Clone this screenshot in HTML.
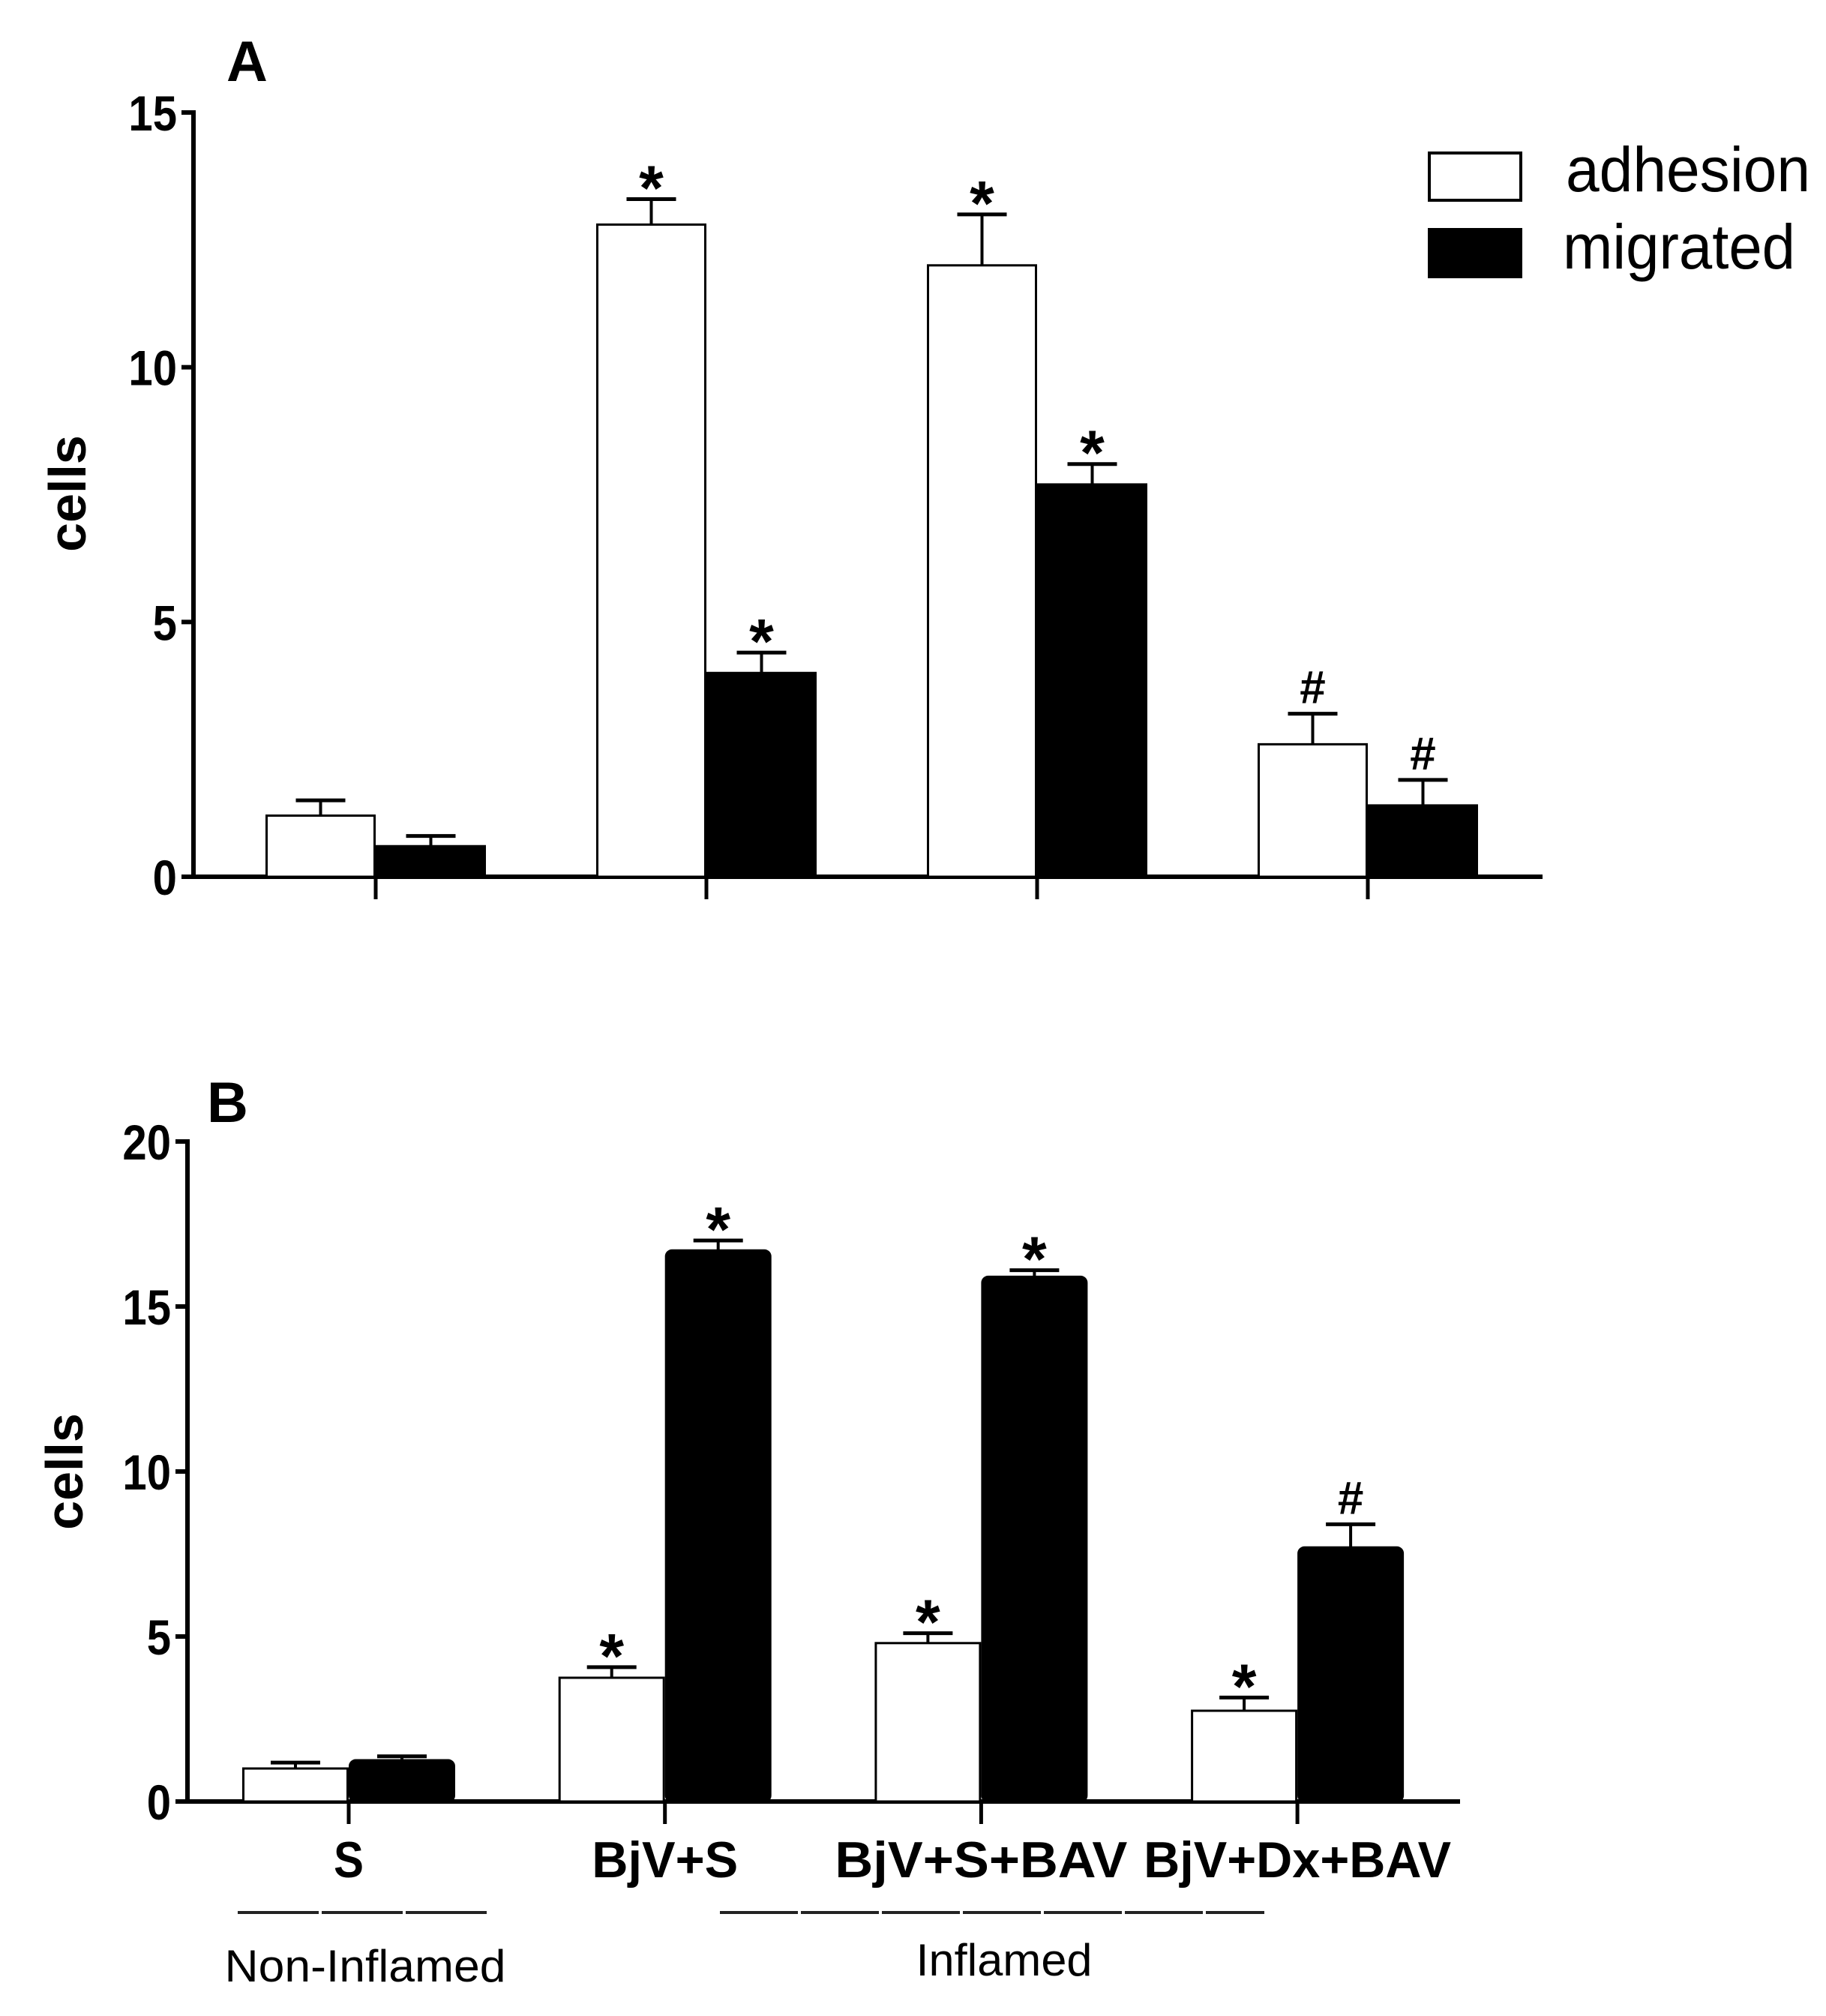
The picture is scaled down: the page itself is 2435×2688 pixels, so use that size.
<!DOCTYPE html>
<html><head><meta charset="utf-8"><style>
html,body{margin:0;padding:0;background:#fff;}
svg{display:block;}
text{font-family:"Liberation Sans",sans-serif;fill:#000;}
</style></head><body>
<svg id="chart" width="2435" height="2688" viewBox="0 0 2435 2688" xmlns="http://www.w3.org/2000/svg">
<g id="gA"></g>
<g id="gB"></g>
</svg>
<script>
const categories = ["S", "BjV+S", "BjV+S+BAV", "BjV+Dx+BAV"];
const adhesionA = [1.2, 12.8, 12.0, 2.6];
const adhesionErrA = [0.3, 0.5, 1.0, 0.6];
const migratedA = [0.6, 4.0, 7.7, 1.4];
const migratedErrA = [0.2, 0.4, 0.4, 0.5];
const adhesionMarkA = ["", "*", "*", "#"];
const migratedMarkA = ["", "*", "*", "#"];
const ticksA = [0, 5, 10, 15];
const adhesionB = [1.0, 3.75, 4.8, 2.75];
const adhesionErrB = [0.18, 0.32, 0.3, 0.4];
const migratedB = [1.25, 16.7, 15.9, 7.7];
const migratedErrB = [0.12, 0.3, 0.2, 0.7];
const adhesionMarkB = ["", "*", "*", "*"];
const migratedMarkB = ["", "*", "*", "#"];
const ticksB = [0, 5, 10, 15, 20];

const NS = "http://www.w3.org/2000/svg";
function mk(parent, tag, attrs, txt) {
  const e = document.createElementNS(NS, tag);
  for (const k in attrs) e.setAttribute(k, attrs[k]);
  if (txt !== undefined) e.textContent = txt;
  parent.appendChild(e);
  return e;
}

function panel(g, cfg) {
  const y = v => cfg.y0 - (v - 0) * (cfg.y0 - cfg.yTop) / cfg.yMax;
  const x = i => cfg.xStart + i * cfg.step;
  const ya = mk(g, "line", {x1: cfg.ax, y1: cfg.yTop - 3, x2: cfg.ax, y2: cfg.y0 + 3, stroke: "#000", "stroke-width": 6});
  
  
  const xa = mk(g, "line", {x1: cfg.ax - 3, y1: cfg.y0, x2: cfg.xEnd, y2: cfg.y0, stroke: "#000", "stroke-width": 6});
  
  
  cfg.ticks.forEach(t => {
    const tl = mk(g, "line", {x1: cfg.ax - 16, y1: y(t), x2: cfg.ax, y2: y(t), stroke: "#000", "stroke-width": 6});
    
    
    const tx = mk(g, "text", {x: cfg.ax - 22, y: y(t) + 24, "text-anchor": "end", "font-size": 66, "font-weight": "bold", transform: "translate(" + (cfg.ax - 22) + ",0) scale(0.88,1) translate(" + (-(cfg.ax - 22)) + ",0)"}, String(t));
    
    
  });
  categories.forEach((c, i) => {
    const cx = x(i);
    const xt = mk(g, "line", {x1: cx, y1: cfg.y0, x2: cx, y2: cfg.y0 + 30, stroke: "#000", "stroke-width": 5});
    
    
    const series = [
      {v: cfg.adh[i], e: cfg.adhErr[i], m: cfg.adhMark[i], x0: cx - cfg.bw, fill: "#fff", name: "adhesion"},
      {v: cfg.mig[i], e: cfg.migErr[i], m: cfg.migMark[i], x0: cx, fill: "#000", name: "migrated"}
    ];
    series.forEach(s => {
      const mid = s.x0 + cfg.bw / 2;
      const top = y(s.v + s.e);
      const el = mk(g, "line", {x1: mid, y1: y(s.v), x2: mid, y2: top, stroke: "#000", "stroke-width": 4});
      
      
      const cap = mk(g, "line", {x1: mid - 33, y1: top, x2: mid + 33, y2: top, stroke: "#000", "stroke-width": 5});
      
      
      const r = mk(g, "rect", {x: s.x0 + 1.5, y: y(s.v), width: cfg.bw - 3, height: cfg.y0 - y(s.v), fill: s.fill, stroke: "#000", "stroke-width": 3, rx: (s.fill === "#000" ? cfg.rx : 0)});
      
      
      if (s.m) {
        const isStar = s.m === "*";
        const t = mk(g, "text", {x: mid, y: top - (isStar ? -14 : 14), "text-anchor": "middle", "font-size": isStar ? 84 : 62, "font-weight": "bold"}, s.m);
        
        
      }
    });
  });
  const lab = mk(g, "text", {x: cfg.labX, y: cfg.labY, "font-size": 76, "font-weight": "bold"}, cfg.label);
  
  
  const yt = mk(g, "text", {x: 0, y: 0, transform: "translate(" + cfg.ytX + "," + cfg.ytY + ") rotate(-90)", "text-anchor": "middle", "font-size": 70, "font-weight": "bold"}, "cells");
  
  
  return x;
}

const gA = document.getElementById("gA");
panel(gA, {y0: 1169, yTop: 150, yMax: 15, ax: 258, xEnd: 2057, xStart: 501, step: 441, bw: 147, rx: 0,
  adh: adhesionA, adhErr: adhesionErrA, mig: migratedA, migErr: migratedErrA, adhMark: adhesionMarkA, migMark: migratedMarkA,
  ticks: ticksA, label: "A", labX: 302, labY: 108, ytX: 114, ytY: 658});

const lg = mk(gA, "g", {});


const l1 = mk(lg, "rect", {x: 1906, y: 204, width: 122, height: 63, fill: "#fff", stroke: "#000", "stroke-width": 4});


const l2 = mk(lg, "rect", {x: 1904, y: 304, width: 126, height: 67, fill: "#000"});


const t1 = mk(lg, "text", {x: 2088, y: 255, "font-size": 84, textLength: 326, lengthAdjust: "spacingAndGlyphs"}, "adhesion");


const t2 = mk(lg, "text", {x: 2084, y: 358, "font-size": 84, textLength: 310, lengthAdjust: "spacingAndGlyphs"}, "migrated");



const gB = document.getElementById("gB");
const xB = panel(gB, {y0: 2402, yTop: 1522, yMax: 20, ax: 250, xEnd: 1947, xStart: 465, step: 421.7, bw: 142, rx: 8,
  adh: adhesionB, adhErr: adhesionErrB, mig: migratedB, migErr: migratedErrB, adhMark: adhesionMarkB, migMark: migratedMarkB,
  ticks: ticksB, label: "B", labX: 276, labY: 1496, ytX: 110, ytY: 1962});

const catW = [40, 195, 390, 410];
categories.forEach((c, i) => {
  const t = mk(gB, "text", {x: xB(i), y: 2503, "text-anchor": "middle", "font-size": 68, "font-weight": "bold", textLength: catW[i], lengthAdjust: "spacingAndGlyphs"}, c);
  
  
});
const g1 = mk(gB, "line", {x1: 317, y1: 2550, x2: 653, y2: 2550, stroke: "#222", "stroke-width": 4, "stroke-dasharray": "108 4"});


const g2 = mk(gB, "line", {x1: 960, y1: 2550, x2: 1686, y2: 2550, stroke: "#222", "stroke-width": 4, "stroke-dasharray": "104 4"});


const n1 = mk(gB, "text", {x: 487, y: 2642, "text-anchor": "middle", "font-size": 60, textLength: 375, lengthAdjust: "spacingAndGlyphs"}, "Non-Inflamed");


const n2 = mk(gB, "text", {x: 1339, y: 2634, "text-anchor": "middle", "font-size": 60, textLength: 235, lengthAdjust: "spacingAndGlyphs"}, "Inflamed");


</script>
</body></html>
